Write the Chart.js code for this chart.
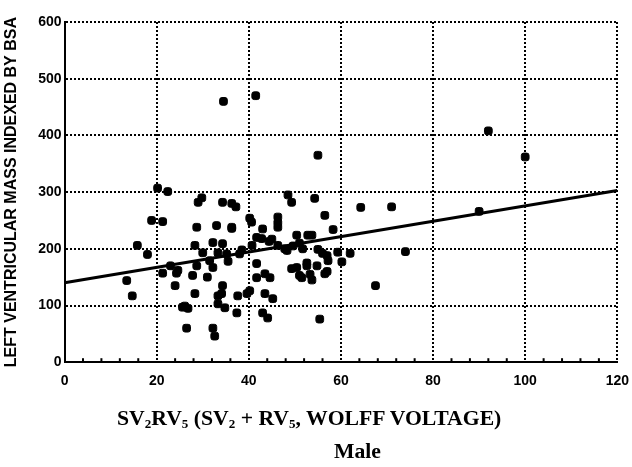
<!DOCTYPE html>
<html>
<head>
<meta charset="utf-8">
<script src="https://cdn.jsdelivr.net/npm/chart.js@4"></script>
<style>
  html, body { margin: 0; padding: 0; background: #fff; }
  #wrap { position: relative; width: 632px; height: 467px; }
  .caption {
    position: absolute;
    font-family: 'Liberation Serif', 'Times New Roman', serif;
    font-weight: bold;
    font-size: 21.7px;
    line-height: 21px;
    white-space: nowrap;
    color: #000;
  }
  .caption sub { font-size: 0.6em; vertical-align: -0.25em; line-height: 0; }
</style>
</head>
<body>
<div id="wrap">
  <canvas id="chart" width="632" height="467"></canvas>
  <div class="caption" style="left:117px; top:408px;">SV<sub>2</sub>RV<sub>5</sub> (SV<sub>2</sub> + RV<sub>5</sub>, WOLFF VOLTAGE)</div>
  <div class="caption" style="left:334px; top:441px;">Male</div>
</div>
<script>
// SV2 + RV5 (Wolff voltage) against LV mass indexed by BSA, male patients
const voltage = [
    34.5, 41.5, 55, 92, 100, 90, 71, 74, 67.5, 64.3, 56.5, 55.4,
    13.5, 14.7, 15.8, 18, 18.9, 20.2, 22.4, 21.3, 21.3, 24.3, 24, 25.6,
    26.8, 26.5, 27.8, 28.3, 28.3, 28.7, 29, 29.8, 28.7, 30, 31.5, 32.2,
    32.2, 33, 33.3, 33.3, 33.3, 32.2, 32.6, 34.3, 34.3, 34.3, 34.1, 34.8,
    35.2, 36.3, 37.2, 36.3, 37.6, 37.4, 38, 40.2, 40.6, 40.7, 40.2, 39.6,
    41.7, 41.7, 41.7, 43, 43.5, 43.5, 44.6, 43, 44.1, 44.4, 45.2, 46.3,
    46.3, 46.3, 46.3, 47.8, 48.3, 48.5, 49.3, 49.3, 50.4, 50.4, 51, 51.5,
    51, 51.7, 52.6, 52.6, 52.8, 53.7, 53.7, 53.3, 54.3, 54.8, 56, 56.5,
    57, 57.2, 58.3, 59.3, 60.2, 62, 55, 26.1, 24.6, 45, 42.8, 36.3,
    38.5, 49.6, 57, 31, 23, 35.5
];
const lvMassIndex = [
    460, 470, 365, 408, 362, 266, 274, 195, 135, 273, 259, 76,
    144, 117, 206, 190, 250, 307, 301, 248, 157, 157, 135, 97,
    95, 60, 153, 121, 206, 238, 282, 290, 170, 193, 179, 167,
    211, 241, 193, 117, 103, 60, 46, 282, 209, 135, 121, 96,
    191, 280, 274, 238, 117, 87, 191, 254, 247, 206, 126, 121,
    220, 174, 149, 235, 156, 121, 149, 87, 78, 213, 112, 256,
    246, 238, 206, 200, 197, 295, 282, 165, 224, 167, 153, 149,
    210, 200, 170, 175, 224, 224, 145, 155, 289, 170, 192, 156,
    188, 179, 234, 194, 177, 192, 199, 99, 162, 217, 218, 236,
    198, 205, 160, 150, 170, 178
];

// regression line end points
const fitX = [0, 120];
const fitY = [140, 303];

const xTicks = [0, 20, 40, 60, 80, 100, 120];
const yTicks = [0, 100, 200, 300, 400, 500, 600];

const points = voltage.map((v, i) => ({ x: v, y: lvMassIndex[i] }));
const fitLine = fitX.map((v, i) => ({ x: v, y: fitY[i] }));

// small inward ticks along the bottom axis
const minorTicks = {
    id: 'minorTicks',
    beforeDatasetsDraw(chart) {
        const ctx = chart.ctx;
        const xs = chart.scales.x;
        const bottom = chart.chartArea.bottom;
        ctx.save();
        ctx.strokeStyle = '#000';
        ctx.lineWidth = 2;
        for (let v = 4; v < 120; v += 4) {
            if (v % 20 === 0) continue;
            const px = xs.getPixelForValue(v);
            ctx.beginPath();
            ctx.moveTo(px, bottom);
            ctx.lineTo(px, bottom - 4);
            ctx.stroke();
        }
        ctx.restore();
    }
};

const tickFont = { family: 'Liberation Sans, Arial, sans-serif', size: 14, weight: 'bold' };

new Chart(document.getElementById('chart'), {
    type: 'scatter',
    data: {
        datasets: [{
            label: 'Male',
            data: points,
            backgroundColor: '#000',
            borderColor: '#000',
            pointStyle: 'rectRounded',
            pointRadius: 4.5,
            pointHoverRadius: 4.5
        }, {
            type: 'line',
            label: 'fit',
            data: fitLine,
            borderColor: '#000',
            borderWidth: 3,
            pointRadius: 0,
            fill: false
        }]
    },
    options: {
        responsive: false,
        animation: false,
        layout: { autoPadding: false, padding: { top: 22, right: 0, left: 2, bottom: 74 } },
        plugins: {
            legend: { display: false },
            tooltip: { enabled: false }
        },
        scales: {
            x: {
                type: 'linear',
                min: 0,
                max: 120,
                afterBuildTicks: (axis) => { axis.ticks = xTicks.map(v => ({ value: v })); },
                ticks: { color: '#000', font: tickFont, padding: 3 },
                grid: {
                    color: '#000',
                    lineWidth: 2,
                    drawTicks: true,
                    tickLength: 8,
                    tickColor: 'rgba(0,0,0,0)'
                },
                border: { color: '#000', width: 2, dash: [2, 2] }
            },
            y: {
                min: 0,
                max: 600,
                afterBuildTicks: (axis) => { axis.ticks = yTicks.map(v => ({ value: v })); },
                ticks: { color: '#000', font: tickFont, padding: 3 },
                grid: {
                    color: '#000',
                    lineWidth: 2,
                    drawTicks: false
                },
                border: { color: '#000', width: 2, dash: [2, 2] },
                title: {
                    display: true,
                    text: 'LEFT VENTRICULAR MASS INDEXED BY BSA',
                    color: '#000',
                    font: { family: 'Liberation Sans, Arial, sans-serif', size: 16, weight: 'bold' },
                    padding: { top: 0, bottom: 14 }
                }
            }
        }
    },
    plugins: [minorTicks]
});
</script>
</body>
</html>
